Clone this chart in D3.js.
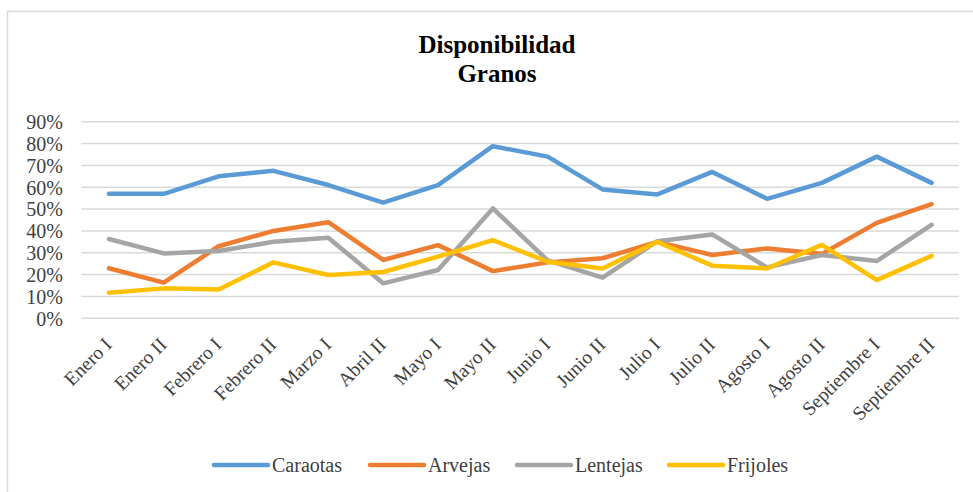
<!DOCTYPE html>
<html><head><meta charset="utf-8">
<script src="https://cdn.jsdelivr.net/npm/d3@7"></script>
<style>body{margin:0;background:#fff}svg{display:block}</style>
</head><body><svg id="c" width="973" height="492"></svg>
<script>
const categories = ["Enero I","Enero II","Febrero I","Febrero II","Marzo I","Abril II","Mayo I","Mayo II","Junio I","Junio II","Julio I","Julio II","Agosto I","Agosto II","Septiembre I","Septiembre II"];
const caraotas = [57,57,65,67.5,61,53,61,78.8,74,59,56.7,67,54.7,62,74,62];
const arvejas  = [22.9,16.3,33,40,44,26.7,33.5,21.6,25.6,27.5,35,29,32,29.5,43.7,52.3];
const lentejas = [36.3,29.7,30.8,35,36.9,16,22.1,50.3,26.5,18.6,35.3,38.4,23.3,29,26.2,42.8];
const frijoles = [11.7,13.7,13.2,25.6,19.8,21.2,28.2,35.8,25.9,22.8,35,24.1,22.8,33.6,17.5,28.6];
const seriesNames = ["Caraotas","Arvejas","Lentejas","Frijoles"];
const yTicks = [0,10,20,30,40,50,60,70,80,90];
const titleLines = ["Disponibilidad","Granos"];

const FONT = "'Liberation Serif','Times New Roman',serif";
const series = [caraotas, arvejas, lentejas, frijoles];
const colors = ["#5B9BD5","#ED7D31","#A5A5A5","#FFC000"];
const svg = d3.select("#c");

svg.append("rect").attr("x",7.5).attr("y",11.5).attr("width",990).attr("height",500)
  .attr("fill","none").attr("stroke","#d9d9d9").attr("stroke-width",1.5);

const x = d3.scaleBand().domain(categories).range([81.5,959]);
const y = d3.scaleLinear().domain([0,90]).range([318.3,121.7]);

// gridlines
svg.append("g").selectAll("line").data(yTicks).join("line")
  .attr("x1",81.5).attr("x2",959).attr("y1",d=>y(d)).attr("y2",d=>y(d))
  .attr("stroke","#d9d9d9").attr("stroke-width",1.5);

// y axis labels
const yAxis = d3.axisLeft(y).tickValues(yTicks).tickFormat(d=>d+"%").tickSize(0).tickPadding(0);
const ga = svg.append("g").attr("transform","translate(63,0)").call(yAxis);
ga.select(".domain").remove();
ga.selectAll("text").attr("font-size",20).attr("fill","#404040").style("font-family",FONT).attr("dy","0.34em");

// x axis labels
const xAxis = d3.axisBottom(x).tickSize(0).tickPadding(0);
const gx = svg.append("g").attr("transform","translate(0,346)").call(xAxis);
gx.select(".domain").remove();
gx.selectAll("text").attr("font-size",19.5).attr("fill","#404040").style("font-family",FONT)
  .attr("text-anchor","end").attr("x",0).attr("y",0).attr("dy",0)
  .attr("transform","translate(4,0) rotate(-45)");

// lines
const line = d3.line().x((d,i)=>x(categories[i])+x.bandwidth()/2).y(d=>y(d));
svg.append("g").selectAll("path").data(series).join("path")
  .attr("d",d=>line(d)).attr("fill","none").attr("stroke",(d,i)=>colors[i])
  .attr("stroke-width",4.5).attr("stroke-linejoin","round").attr("stroke-linecap","round");

// title
svg.append("g").selectAll("text").data(titleLines).join("text")
  .attr("x",497).attr("y",(d,i)=>53+i*29).attr("text-anchor","middle").style("font-family",FONT)
  .attr("font-size",25).attr("font-weight","bold").attr("fill","#000").text(d=>d);

// legend
const legX = [214,370,517,669];
const lg = svg.append("g").selectAll("g").data(seriesNames).join("g")
  .attr("transform",(d,i)=>`translate(${legX[i]},465)`);
lg.append("line").attr("x1",0).attr("x2",54).attr("y1",0).attr("y2",0)
  .attr("stroke",(d,i)=>colors[i]).attr("stroke-width",4.5).attr("stroke-linecap","round");
lg.append("text").attr("x",58).attr("y",0).attr("dy","0.33em").attr("font-size",20).style("font-family",FONT)
  .attr("fill","#404040").text(d=>d);
</script></body></html>
